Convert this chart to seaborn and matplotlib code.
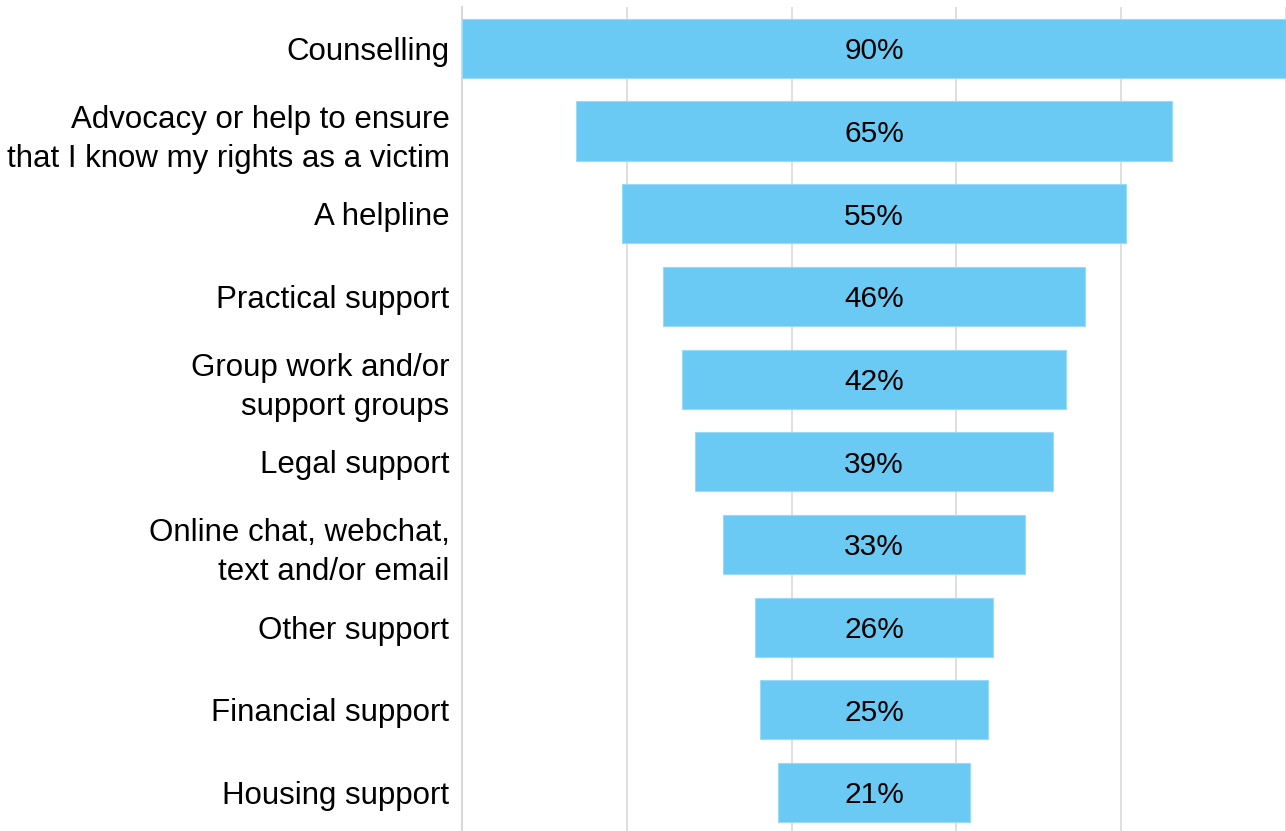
import matplotlib
matplotlib.use("Agg")
import matplotlib.pyplot as plt
import seaborn as sns
import pandas as pd
import numpy as np

categories = [
    "Counselling",
    "Advocacy or help to ensure\nthat I know my rights as a victim",
    "A helpline",
    "Practical support",
    "Group work and/or\nsupport groups",
    "Legal support",
    "Online chat, webchat,\ntext and/or email",
    "Other support",
    "Financial support",
    "Housing support",
]
values = [90, 65, 55, 46, 42, 39, 33, 26, 25, 21]

max_value = max(values)
offsets = [(max_value - v) / 2 for v in values]

df = pd.DataFrame({"category": categories, "value": values})

sns.set_theme(style="white")
plt.rcParams["font.family"] = ["Liberation Sans", "DejaVu Sans"]

fig = plt.figure(figsize=(12.86, 8.31), dpi=100)
ax = fig.add_axes([462 / 1286, -2.7 / 831, 824 / 1286, 826.7 / 831])

sns.barplot(
    data=df, x="value", y="category", orient="y", ax=ax,
    color="#6BCAF4", saturation=1, width=0.714,
    left=offsets, edgecolor="#9ad9f7", linewidth=0.8, zorder=3,
)

for i, (v, off) in enumerate(zip(values, offsets)):
    ax.text(off + v / 2, i, f"{v}%", ha="center", va="center_baseline",
            fontsize=21.5, color="black", zorder=4)

ax.set_xlim(0, max_value)
ax.set_xticks(np.arange(0, max_value + 1, 18))
ax.xaxis.grid(True, color="#d9d9d9", linewidth=1.2, zorder=0)
ax.set_axisbelow(True)
ax.set_xticklabels([])
ax.tick_params(axis="x", length=0)
ax.tick_params(axis="y", length=0, pad=9, labelsize=22.5, labelcolor="black")
for lbl in ax.get_yticklabels():
    lbl.set_linespacing(1.4)
ax.set_xlabel("")
ax.set_ylabel("")
for side in ["top", "right", "bottom"]:
    ax.spines[side].set_visible(False)
ax.spines["left"].set_color("#d9d9d9")
ax.spines["left"].set_linewidth(1.5)

fig.savefig("out.png", dpi=100)
